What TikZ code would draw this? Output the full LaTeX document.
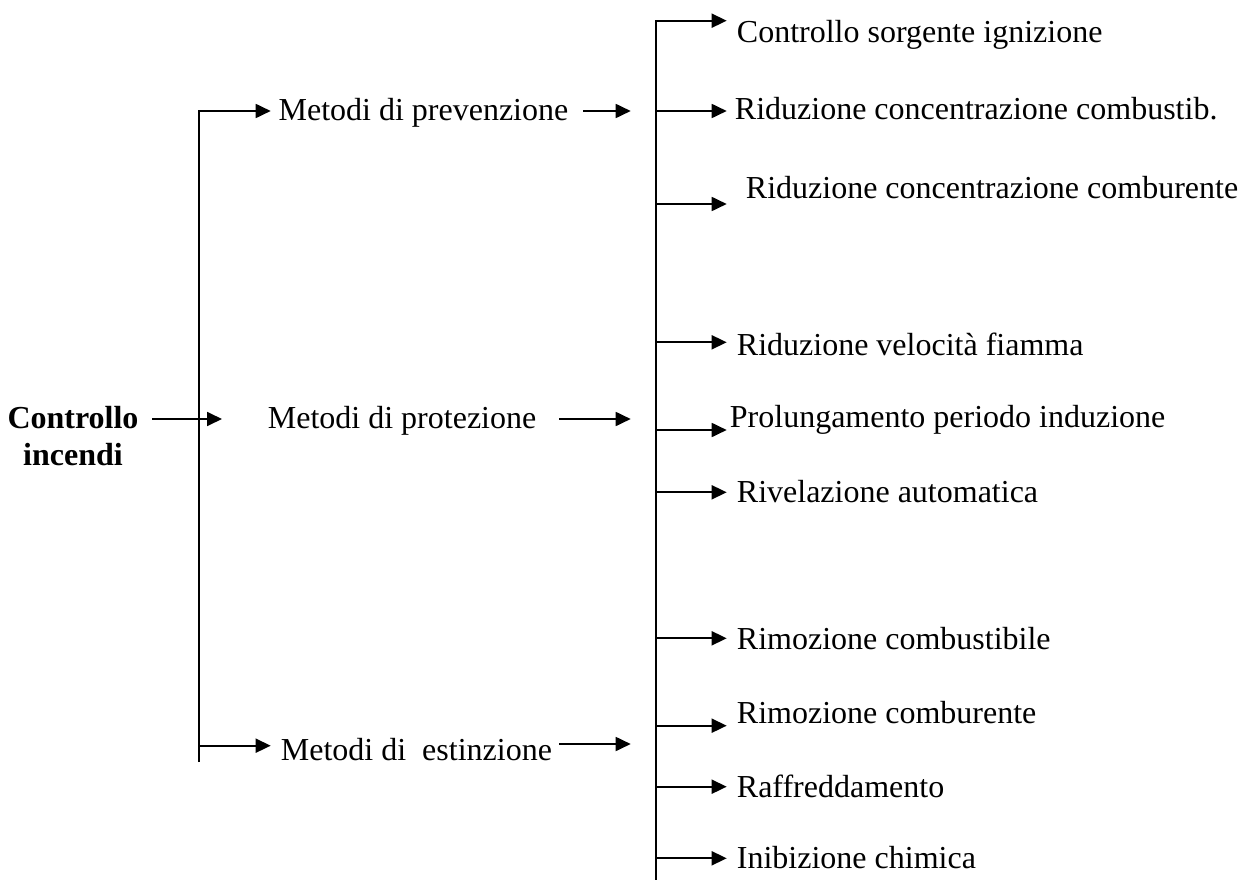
\documentclass[tikz,border=0pt]{standalone}
\usepackage{fontspec}
\setmainfont{Liberation Serif}
\usetikzlibrary{arrows.meta}
\begin{document}
\begin{tikzpicture}[x=1pt,y=-1pt,
  line width=1.8pt,
  arr/.style={-{Triangle[length=15pt,width=14pt]}},
  lbl/.style={anchor=base west,inner sep=0pt,font=\fontsize{32}{37}\selectfont},
  root/.style={anchor=base,inner sep=0pt,align=center,font=\fontsize{32}{37}\selectfont\bfseries},
]
\useasboundingbox (0,0) rectangle (1247,880);

% root (anchor base = baseline of last line)
\node[root] (ci) at (73,465) {Controllo\\incendi};

% middle level
\node[lbl] (prev) at (277.7,121) {Metodi di prevenzione};
\node[lbl] (prot) at (267,428) {Metodi di protezione};
\node[lbl] (est) at (280,760) {Metodi di\ \ estinzione};

% right level
\node[lbl] (t1) at (736,43) {Controllo sorgente ignizione};
\node[lbl] (t2) at (734,120) {Riduzione concentrazione combustib.};
\node[lbl] (t3) at (745,198) {Riduzione concentrazione comburente};
\node[lbl] (t4) at (736,355) {Riduzione velocità fiamma};
\node[lbl] (t5) at (729,427) {Prolungamento periodo induzione};
\node[lbl] (t6) at (736,502) {Rivelazione automatica};
\node[lbl] (t7) at (736,649) {Rimozione combustibile};
\node[lbl] (t8) at (736,723) {Rimozione comburente};
\node[lbl] (t9) at (736,797) {Raffreddamento};
\node[lbl] (t10) at (736,868) {Inibizione chimica};

% left spine
\coordinate (lbot) at (199.3,762);
\coordinate (lp) at (270.7,111);
\coordinate (lsb) at (199.3,745.7);
\coordinate (lse) at (270.7,745.7);
\draw[arr] (lbot) |- (lp);
\draw[arr] (lsb) -- (lse);

% root arrow
\coordinate (cis) at (152,419);
\coordinate (cie) at (222,419);
\draw[arr] (cis) -- (cie);

% middle arrows
\coordinate (pvs) at (583,111);  \coordinate (pve) at (630.7,111);
\coordinate (pts) at (559,419);  \coordinate (pte) at (630.7,419);
\coordinate (ess) at (559,744);  \coordinate (ese) at (630.7,744);
\draw[arr] (pvs) -- (pve);
\draw[arr] (pts) -- (pte);
\draw[arr] (ess) -- (ese);

% right spine
\coordinate (rbot) at (655.7,880);
\coordinate (e1) at (726.7,20.7);
\draw[arr] (rbot) |- (e1);
\foreach \n/\yy in {2/111,3/204,4/342.3,5/430,6/492.3,7/638.3,8/725.7,9/786.7,10/858.3}{
  \coordinate (b\n) at (655.7,\yy);
  \coordinate (e\n) at (726.7,\yy);
  \draw[arr] (b\n) -- (e\n);
}
\end{tikzpicture}
\end{document}
